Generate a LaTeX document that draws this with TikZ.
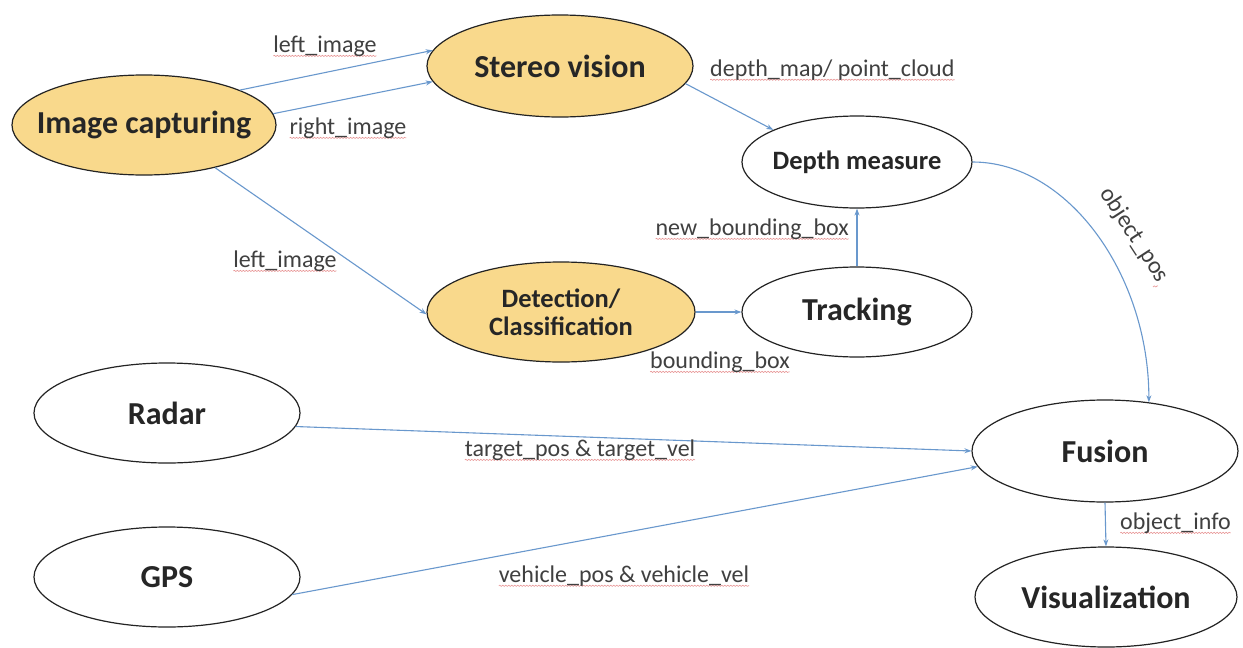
\documentclass[tikz,border=0pt]{standalone}
\usepackage{fontspec}
\setmainfont{Carlito}
\usetikzlibrary{shapes.geometric,arrows.meta,decorations.pathmorphing}
\definecolor{fillY}{RGB}{249,217,140}
\definecolor{edgeB}{RGB}{105,152,205}
\definecolor{lineK}{RGB}{35,35,35}
\definecolor{squigR}{RGB}{232,150,150}
\begin{document}
\begin{tikzpicture}[x=1pt,y=-1pt,
  proc/.style={ellipse, draw=lineK, line width=1.2pt, inner xsep=-45pt, inner ysep=-10pt,
    font=\bfseries\fontsize{32}{36}\selectfont, text=black!85},
  yel/.style={fill=fillY},
  small/.style={font=\bfseries\fontsize{26.5}{28}\selectfont},
  lbl/.style={font=\fontsize{24}{28}\selectfont, text=black!75, inner sep=2pt,
    path picture={\draw[squigR, line width=0.6pt, decorate,
      decoration={snake, amplitude=0.6pt, segment length=3pt}]
      ([xshift=2pt,yshift=2.5pt]path picture bounding box.south west) --
      ([xshift=-2pt,yshift=2.5pt]path picture bounding box.south east);}},
  conn/.style={draw=edgeB, line width=1.1pt, -{Stealth[length=7pt,width=5pt]}}
]
\useasboundingbox[fill=white] (0,0) rectangle (1243,648);

% nodes
\node[proc,yel,minimum width=264pt,minimum height=100pt] (ic) at (144,125) {Image capturing};
\node[proc,yel,minimum width=266pt,minimum height=102pt] (sv) at (560,66) {Stereo vision};
\node[proc,small,minimum width=230pt,minimum height=92pt] (dm) at (857,162) {Depth measure};
\node[proc,yel,small,align=center,minimum width=268pt,minimum height=100pt] (det) at (561,312) {Detection/\\Classification};
\node[proc,minimum width=230pt,minimum height=90pt] (tr) at (857,312) {Tracking};
\node[proc,minimum width=266pt,minimum height=100pt] (ra) at (167,413) {Radar};
\node[proc,minimum width=266pt,minimum height=100pt] (gps) at (167,577) {GPS};
\node[proc,minimum width=266pt,minimum height=102pt] (fu) at (1105,451) {Fusion};
\node[proc,minimum width=262pt,minimum height=100pt] (vis) at (1106,597) {Visualization};

% connectors
\draw[conn] (ic.20) -- (sv.173);
\draw[conn] (ic.5) -- (sv.187);
\draw[conn] (ic.-31) -- (det.181);
\draw[conn] (sv.-8) -- (dm.159);
\draw[conn] (tr.north) -- (dm.south);
\draw[conn] (det.east) -- (tr.west);
\draw[conn] (dm.east) .. controls +(95,0) and +(0,-128) .. (fu.48);
\draw[conn] (ra.-6) -- (fu.west);
\draw[conn] (gps.-8) -- (fu.187);
\draw[conn] (fu.south) -- (vis.north);

% labels
\node[lbl] (l1) at (325,46) {left\_image};
\node[lbl] (l2) at (348,128) {right\_image};
\node[lbl] (l3) at (285,261) {left\_image};
\node[lbl,anchor=west] (l4) at (708,70) {depth\_map/ point\_cloud};
\node[lbl,anchor=east] (l5) at (851,229) {new\_bounding\_box};
\node[lbl,anchor=east] (l6) at (792,362) {bounding\_box};
\node[lbl,rotate=-57] (l7) at (1134,235) {object\_pos};
\node[lbl] (l8) at (580,450) {target\_pos \& target\_vel};
\node[lbl] (l9) at (624,576) {vehicle\_pos \& vehicle\_vel};
\node[lbl,anchor=west] (l10) at (1118,523) {object\_info};
\end{tikzpicture}
\end{document}
